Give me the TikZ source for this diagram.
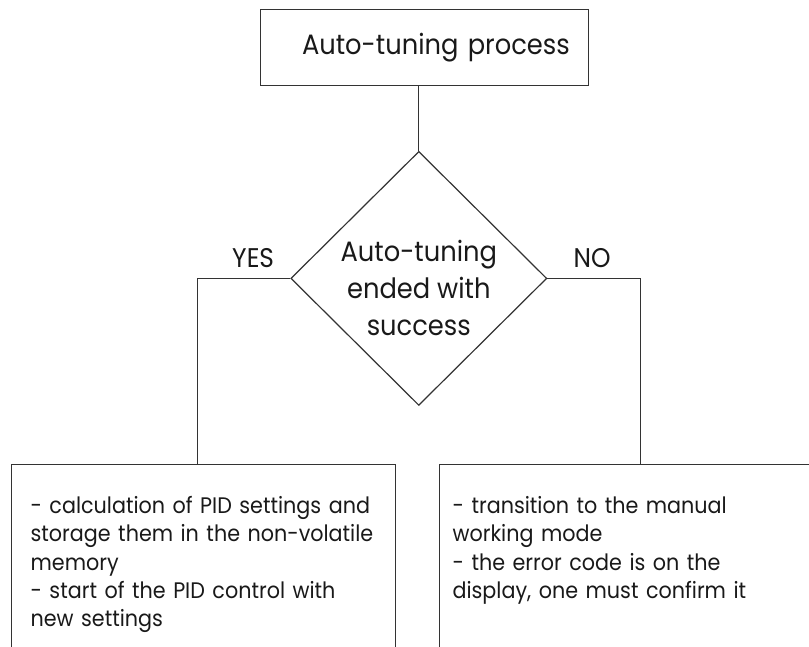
\documentclass[tikz,border=0pt]{standalone}
\usepackage{fontspec}
\setmainfont{Poppins}[FakeStretch = 0.92]
\usetikzlibrary{positioning, shapes.geometric}
\tikzset{
process box/.style = { rectangle, draw = black!80, line width = 1.2pt, minimum width = 328pt, minimum height = 76pt, text width = 290pt, inner xsep = 19pt, align = right, text = black!90, font = \fontsize{28}{30}\selectfont },
decision/.style = { diamond, draw = black!80, line width = 1.2pt, minimum width = 256pt, minimum height = 254pt, inner sep = 0pt },
outcome box/.style = { rectangle, draw = black!80, line width = 1.2pt, anchor = north west, align = left, inner xsep = 22pt, inner ysep = 32pt, text depth = 200pt, text = black!90, font = \fontsize{22.5}{28.2}\selectfont },
answer/.style = { font = \fontsize{27}{30}\selectfont, text = black!90, inner sep = 0pt, above = 10pt },
connector/.style = { draw = black!80, line width = 1.2pt },
}
\begin{document}
\begin{tikzpicture}[x = 1pt, y = -1pt]
    \useasboundingbox (0, 0) rectangle (809, 647);
    \clip (0, 0) rectangle (809, 647);
    \node[process box] (tuning) at (424.85, 47.15) {Auto-tuning process};
    \node[decision, label = {[name = check text, align = center, text = black!90, font = \fontsize{28}{37}\selectfont, yshift = -10pt]center:Auto-tuning\\ended with\\success}] (check) at (418.8, 278.4) {};
    \node[outcome box, text width = 346pt, inner xsep = 19pt] (yes box) at (11, 464) {- calculation of PID settings and\\storage them in the non-volatile\\memory\\- start of the PID control with\\new settings};
    \node[outcome box, text width = 376pt, inner xsep = 13pt] (no box) at (439, 464) {- transition to the manual\\working mode\\- the error code is on the\\display, one must confirm it};
    \draw[connector] (check.north) -- (check.north |- tuning.south);
    \draw[connector] (check.west) -| node[answer, pos = 0.2] {YES} ([xshift = -6pt]yes box.north);
    \draw[connector] (check.east) -| node[answer, pos = 0.24] {NO} (no box.north);
\end{tikzpicture}
\end{document}
